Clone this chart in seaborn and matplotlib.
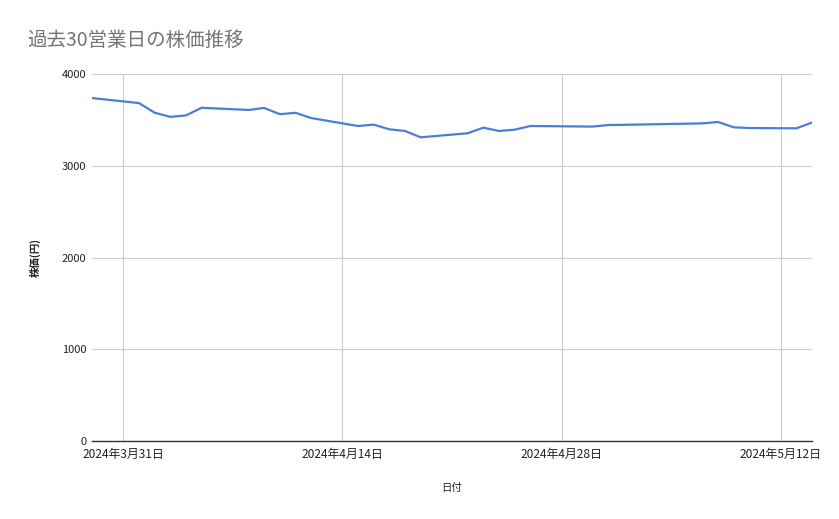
import pandas as pd
import matplotlib.pyplot as plt
import seaborn as sns

# 日付と終値
dates = ["2024-03-29",
         "2024-04-01", "2024-04-02", "2024-04-03", "2024-04-04", "2024-04-05",
         "2024-04-08", "2024-04-09", "2024-04-10", "2024-04-11", "2024-04-12",
         "2024-04-15", "2024-04-16", "2024-04-17", "2024-04-18", "2024-04-19",
         "2024-04-22", "2024-04-23", "2024-04-24", "2024-04-25", "2024-04-26",
         "2024-04-30", "2024-05-01", "2024-05-02",
         "2024-05-07", "2024-05-08", "2024-05-09", "2024-05-10",
         "2024-05-13", "2024-05-14"]
prices = [3738,
          3683, 3578, 3533, 3548, 3632,
          3608, 3630, 3562, 3577, 3520,
          3433, 3448, 3397, 3379, 3310,
          3354, 3415, 3379, 3393, 3433,
          3427, 3444, 3446,
          3462, 3477, 3419, 3411,
          3408, 3471]
tick_dates = ["2024-03-31", "2024-04-14", "2024-04-28", "2024-05-12"]
y_ticks = [0, 1000, 2000, 3000, 4000]

df = pd.DataFrame({"日付": pd.to_datetime(dates), "株価": prices})

sns.set_style("whitegrid")
plt.rcParams['font.family'] = ['Noto Sans CJK JP', 'DejaVu Sans']

fig = plt.figure(figsize=(8.39, 5.19), dpi=100)
ax = fig.add_axes([92 / 839, 1 - 441 / 519, 720 / 839, 367 / 519])

sns.lineplot(data=df, x="日付", y="株価", ax=ax, color="#4a7fd6", linewidth=1.6)

ax.set_xlim(df["日付"].min(), df["日付"].max())
ax.set_ylim(0, 4000)
ax.set_yticks(y_ticks)
ax.set_yticklabels([str(v) for v in y_ticks], fontsize=8, color="#222222")
ax.tick_params(axis="y", length=0, pad=4)
ticks = pd.to_datetime(tick_dates)
ax.set_xticks(ticks)
ax.set_xticklabels([f"{d.year}年{d.month}月{d.day}日" for d in ticks],
                   fontsize=8.6, color="#222222")
ax.tick_params(axis="x", length=0, pad=5)

ax.grid(True, color="#cccccc", linewidth=0.8)
for s in ["left", "right", "top"]:
    ax.spines[s].set_visible(False)
ax.spines["bottom"].set_color("#333333")
ax.spines["bottom"].set_linewidth(1.0)

ax.set_xlabel("日付", fontsize=7.5, color="#222222", labelpad=16)
ax.set_ylabel("株価(円)", fontsize=7.5, color="#222222", fontweight="bold", labelpad=15)

fig.text(27 / 839, 1 - 40 / 519, "過去30営業日の株価推移", fontsize=14,
         color="#757575", va="center", ha="left")

fig.savefig("out.png", dpi=100)
